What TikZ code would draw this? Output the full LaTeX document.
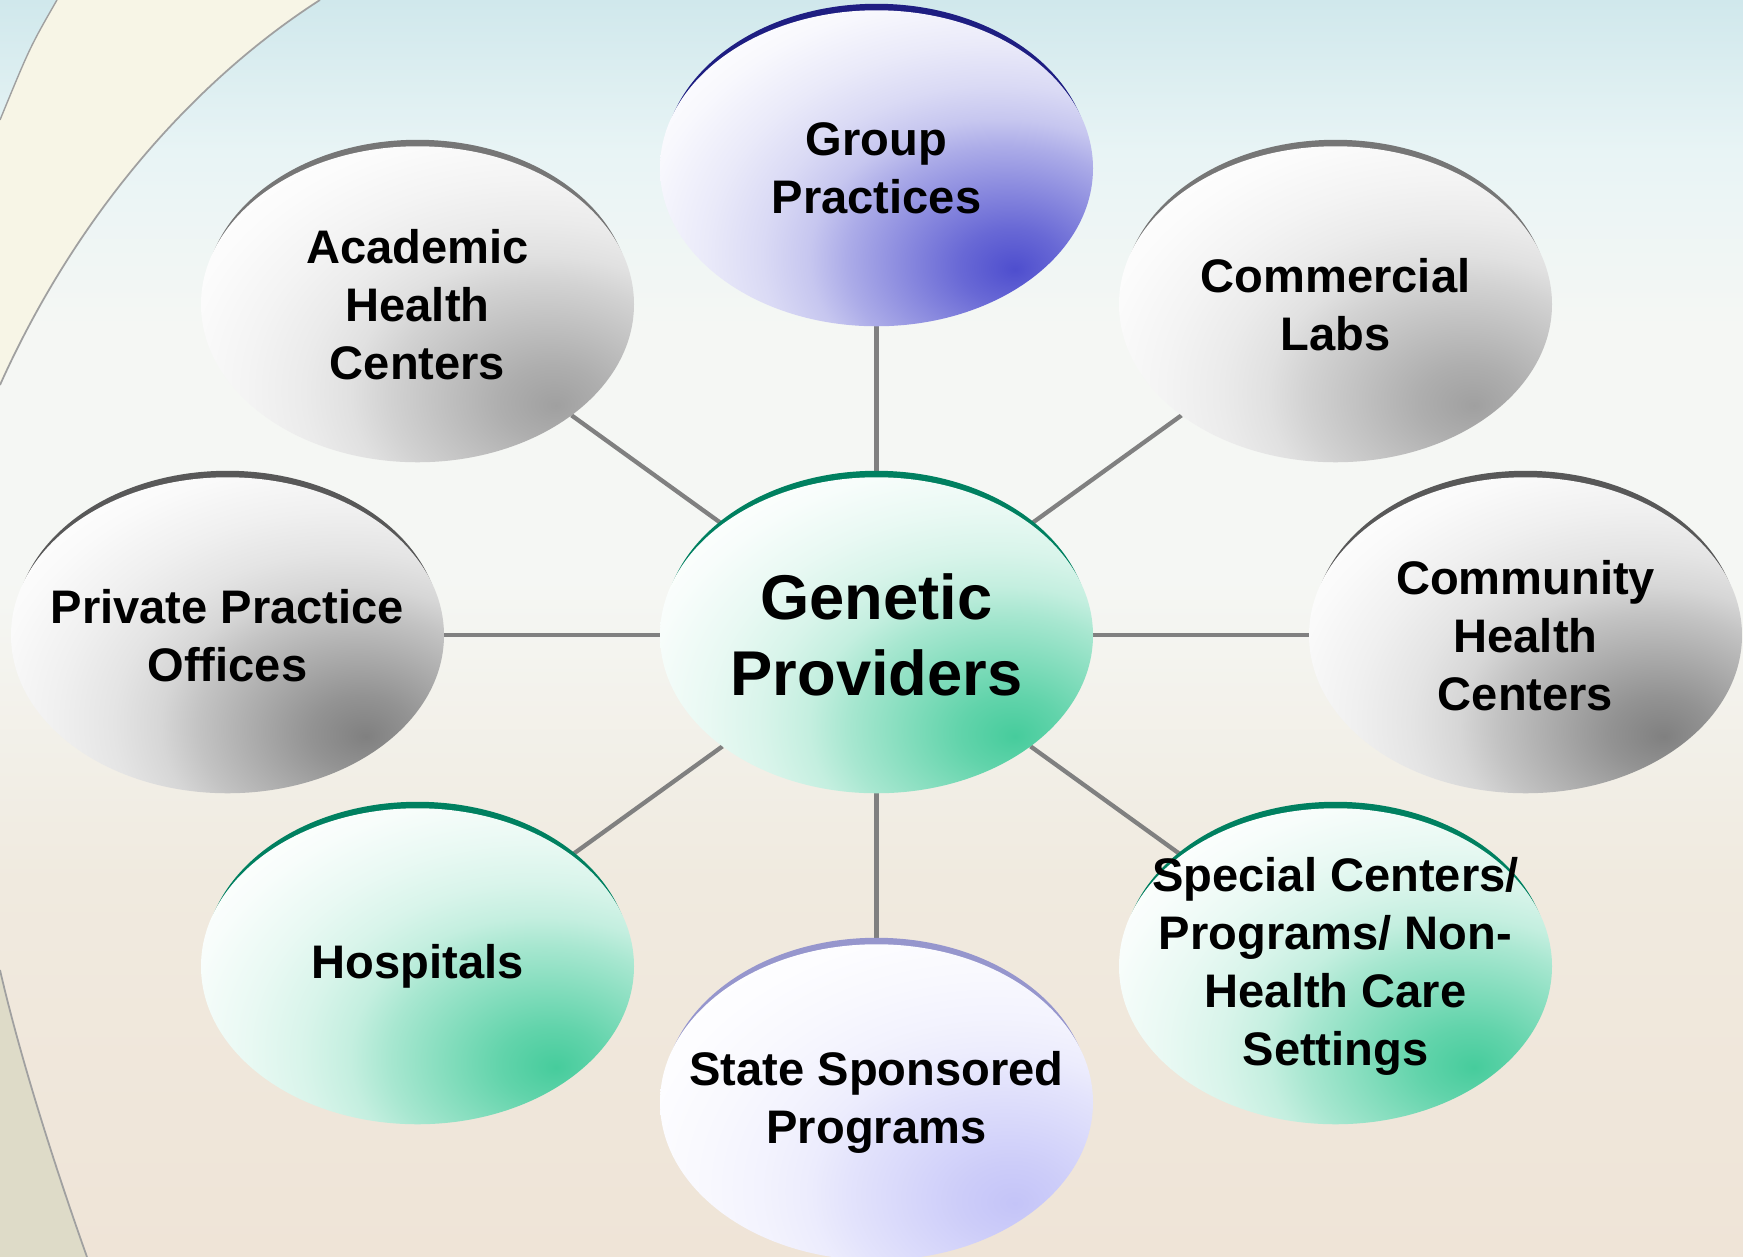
\documentclass[tikz,border=0pt]{standalone}
\usepackage{fontspec}
\setmainfont{Liberation Sans}
\usetikzlibrary{positioning,shapes.geometric,calc}

\definecolor{ggray}{RGB}{128,128,128}
\definecolor{lgray}{RGB}{160,160,160}
\definecolor{gblue}{RGB}{78,78,206}
\definecolor{ggreen}{RGB}{70,204,156}
\definecolor{glav}{RGB}{196,196,248}
\definecolor{rimgray}{RGB}{88,88,88}
\definecolor{rimlgray}{RGB}{118,118,118}
\definecolor{rimblue}{RGB}{30,30,130}
\definecolor{rimgreen}{RGB}{0,128,96}
\definecolor{rimlav}{RGB}{150,150,205}
\definecolor{linegray}{RGB}{128,128,128}
\definecolor{bgtop}{RGB}{208,232,236}
\definecolor{bgupper}{RGB}{232,244,245}
\definecolor{bgmid}{RGB}{245,247,244}
\definecolor{bglow}{RGB}{240,234,223}
\definecolor{bgbot}{RGB}{239,228,215}
\definecolor{arcgray}{RGB}{160,160,160}
\definecolor{cornerbeige}{RGB}{222,219,200}
\definecolor{cornercream}{RGB}{247,245,230}

\pgfdeclarelayer{backdrop}
\pgfdeclarelayer{background}
\pgfsetlayers{backdrop,background,main}

% one radial shading per ball colour, bright spot low right
\newcommand{\ballshading}[2]{\pgfdeclareradialshading{#1}{\pgfpoint{16bp}{-16bp}}{color(0bp)=(#2); color(6bp)=(#2!85!white); color(12bp)=(#2!66!white); color(18bp)=(#2!47!white); color(22bp)=(#2!32!white); color(27bp)=(#2!21!white); color(33bp)=(#2!12!white); color(40bp)=(#2!4!white); color(46bp)=(white); color(200bp)=(white)}}
\ballshading{grayball}{ggray}
\ballshading{lgrayball}{lgray}
\ballshading{blueball}{gblue}
\ballshading{greenball}{ggreen}
\ballshading{lavball}{glav}

\pgfdeclareverticalshading{backdrop}{100bp}{color(0bp)=(bgbot); color(25bp)=(bgbot); color(40bp)=(bglow); color(52bp)=(bgmid); color(62bp)=(bgmid); color(69bp)=(bgupper); color(75bp)=(bgtop); color(100bp)=(bgtop)}

\tikzstyle{ball}=[ellipse, minimum width=4.33cm, minimum height=3.16cm, inner sep=0pt, outer sep=0pt, shade]
\tikzstyle{graybox}=[ball, shading=grayball]
\tikzstyle{lgraybox}=[ball, shading=lgrayball]
\tikzstyle{bluebox}=[ball, shading=blueball]
\tikzstyle{greenbox}=[ball, shading=greenball]
\tikzstyle{lavbox}=[ball, shading=lavball]
\tikzstyle{rim}=[x radius=2.13cm, y radius=1.58cm]
\tikzstyle{txt}=[align=center, font=\fontsize{13.4}{16.5}\selectfont\bfseries]
\tikzstyle{bigtxt}=[align=center, font=\fontsize{18}{21.6}\selectfont\bfseries]
\tikzstyle{pline}=[-, line width=0.043cm, draw=linegray]

\begin{document}
\begin{tikzpicture}[on grid]

\useasboundingbox (0,0) rectangle (17.43,12.57);
\begin{pgfonlayer}{backdrop}
\shade[shading=backdrop] (0,0) rectangle (17.43,12.57);
\fill[cornercream] (0.57,12.57) .. controls (0.3,12.1) .. (0,11.37) -- (0,8.72) .. controls (0.8,10.5) and (2.0,11.8) .. (3.2,12.57) -- cycle;
\fill[cornerbeige] (0,2.87) .. controls (0.2,2.0) and (0.55,0.9) .. (0.87,0) -- (0,0) -- cycle;
\draw[arcgray, line width=0.4pt] (0.57,12.57) .. controls (0.3,12.1) .. (0,11.37);
\draw[arcgray, line width=0.5pt] (3.2,12.57) .. controls (2.0,11.8) and (0.8,10.5) .. (0,8.72);
\draw[arcgray, line width=0.5pt] (0,2.87) .. controls (0.2,2.0) and (0.55,0.9) .. (0.87,0);
\end{pgfonlayer}

\node (GEN) [greenbox] at (8.765,6.217) {};\node [bigtxt] at (GEN) {Genetic\\Providers};

\node (GRP) [bluebox, above=4.67cm of GEN] {};\node [txt] at (GRP) {Group\\Practices};
\node (STATE) [lavbox, below=4.67cm of GEN] {};\node [txt] at (STATE) {State Sponsored\\Programs};

\node (PRIV) [graybox, left=6.49cm of GEN] {};\node [txt] at (PRIV) {Private Practice\\Offices};
\node (CHC) [graybox, right=6.49cm of GEN] {};\node [txt] at (CHC) {Community\\Health\\Centers};

\node (ACAD) [lgraybox, above left=3.31cm and 4.59cm of GEN] {};\node [txt] at (ACAD) {Academic\\Health\\Centers};
\node (COMM) [lgraybox, above right=3.31cm and 4.59cm of GEN] {};\node [txt] at (COMM) {Commercial\\Labs};

\node (HOSP) [greenbox, below left=3.31cm and 4.59cm of GEN] {};\node [txt] at (HOSP) {Hospitals};
\node (SPEC) [greenbox, below right=3.31cm and 4.59cm of GEN] {};\node [txt] at (SPEC) {Special Centers/\\Programs/ Non-\\Health Care\\Settings};

\begin{pgfonlayer}{background}
 \draw[pline] (GEN) -- (GRP);
 \draw[pline] (GEN) -- (STATE);
 \draw[pline] (GEN) -- (PRIV);
 \draw[pline] (GEN) -- (CHC);
 \draw[pline] (GEN) -- (ACAD);
 \draw[pline] (GEN) -- (COMM);
 \draw[pline] (GEN) -- (HOSP);
 \draw[pline] (GEN) -- (SPEC);
 % dark top edge of each ball
 \fill[rimgreen] ($(GEN)+(0,0.065)$) ellipse [rim];
 \fill[rimblue] ($(GRP)+(0,0.065)$) ellipse [rim];
 \fill[rimlav] ($(STATE)+(0,0.065)$) ellipse [rim];
 \fill[rimgray] ($(PRIV)+(0,0.065)$) ellipse [rim];
 \fill[rimgray] ($(CHC)+(0,0.065)$) ellipse [rim];
 \fill[rimlgray] ($(ACAD)+(0,0.065)$) ellipse [rim];
 \fill[rimlgray] ($(COMM)+(0,0.065)$) ellipse [rim];
 \fill[rimgreen] ($(HOSP)+(0,0.065)$) ellipse [rim];
 \fill[rimgreen] ($(SPEC)+(0,0.065)$) ellipse [rim];
\end{pgfonlayer}

\end{tikzpicture}
\end{document}
